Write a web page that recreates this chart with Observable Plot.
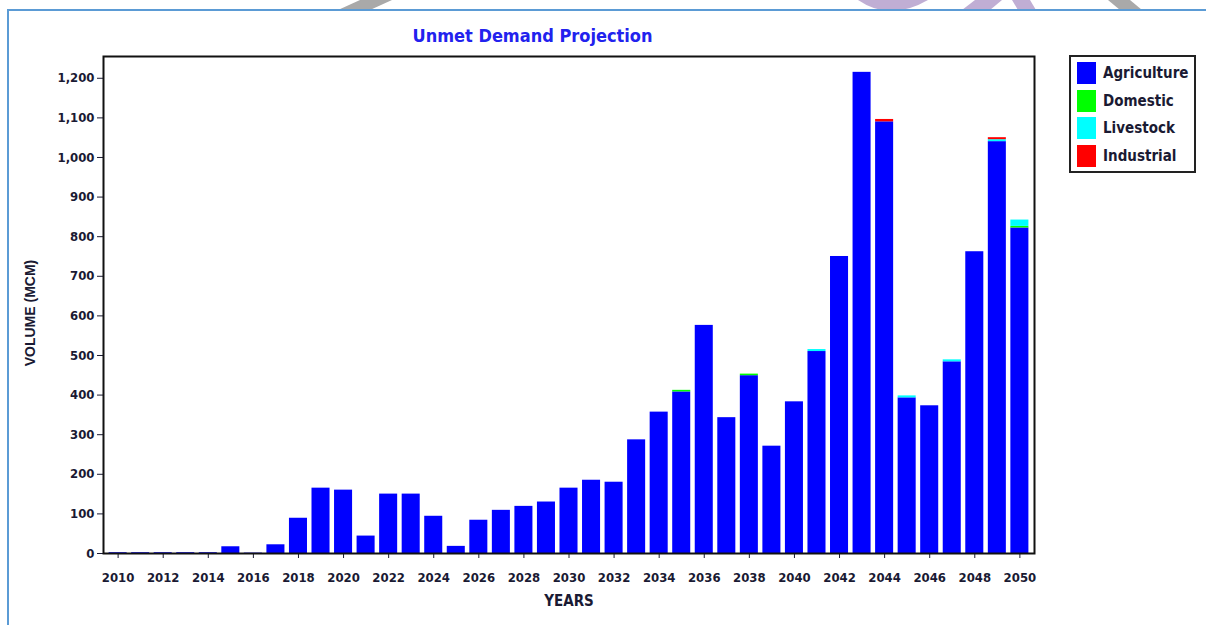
<!DOCTYPE html>
<html>
<head>
<meta charset="utf-8">
<script src="https://cdn.jsdelivr.net/npm/d3@7"></script>
<script src="https://cdn.jsdelivr.net/npm/@observablehq/plot@0.6"></script>
<style>
  html, body { margin: 0; padding: 0; background: #fff; }
  #wrap { position: relative; width: 1206px; height: 625px; overflow: hidden; }
  #deco { position: absolute; left: 0; top: 0; }
  #chart { position: absolute; left: 0; top: 0; }
  #title { position: absolute; left: 0; width: 1065px; top: 25px; text-align: center;
    font-family: "DejaVu Sans Condensed", "DejaVu Sans", sans-serif; font-stretch: condensed; font-weight: bold;
    font-size: 18px; color: #2222ee; }
  #legend { position: absolute; left: 1069px; top: 55px; width: 127px; height: 118px;
    border: 2px solid #222; background: #fff; box-sizing: border-box;
    font-family: "DejaVu Sans Condensed", "DejaVu Sans", sans-serif; font-stretch: condensed; font-weight: bold; font-size: 15px; color: #1a1a33; }
  .row { position: absolute; left: 6px; height: 22px; display: flex; align-items: center; }
  .sw { width: 19px; height: 22px; margin-right: 7px; }
</style>
</head>
<body>
<div id="wrap">
  <svg id="deco" width="1206" height="625">
    <polygon points="338,10 360,0 392,0 370,10" fill="#a9a9a9"/>
    <path d="M858,0 Q890,22 928,0 Z" fill="#c0aed4"/>
    <polygon points="962,10 975,0 1002,0 990,10" fill="#c0aed4"/>
    <polygon points="1012,0 1030,0 1036,10 1018,10" fill="#c0aed4"/>
    <polygon points="1108,0 1130,0 1142,10 1120,10" fill="#a9a9a9"/>
    <line x1="7" y1="10" x2="1206" y2="10" stroke="#5b9bd5" stroke-width="2"/>
    <line x1="8" y1="10" x2="8" y2="625" stroke="#5b9bd5" stroke-width="2"/>
  </svg>
  <div id="chart"></div>
  <div id="title">Unmet Demand Projection</div>
  <div id="legend"></div>
</div>
<script>
const years = [2010,2011,2012,2013,2014,2015,2016,2017,2018,2019,2020,2021,2022,2023,2024,2025,2026,2027,2028,2029,2030,2031,2032,2033,2034,2035,2036,2037,2038,2039,2040,2041,2042,2043,2044,2045,2046,2047,2048,2049,2050];
const agriculture = [2,2,2,2,2,17,1,22,89,165,160,44,150,150,94,18,84,109,119,130,165,185,180,287,357,408,576,343,449,271,383,510,750,1215,1090,393,373,484,762,1040,822];
const domestic    = [0,0,0,0,0,0,0,0,0,0,0,0,0,0,0,0,0,0,0,0,0,0,0,0,0,4,0,0,4,0,0,0,0,0,0,0,0,0,0,0,4];
const livestock   = [0,0,0,0,0,0,0,0,0,0,0,0,0,0,0,0,0,0,0,0,0,0,0,0,0,0,0,0,0,0,0,5,0,0,0,5,0,5,0,5,16];
const industrial  = [0,0,0,0,0,0,0,0,0,0,0,0,0,0,0,0,0,0,0,0,0,0,0,0,0,0,0,0,0,0,0,0,0,0,6,0,0,0,0,5,0];
const seriesNames = ["Agriculture","Domestic","Livestock","Industrial"];
const seriesColors = ["#0000ff","#00ff00","#00ffff","#ff0000"];
const yTicks = [0,100,200,300,400,500,600,700,800,900,1000,1100,1200];
const xTickYears = [2010,2012,2014,2016,2018,2020,2022,2024,2026,2028,2030,2032,2034,2036,2038,2040,2042,2044,2046,2048,2050];

const seriesValues = [agriculture, domestic, livestock, industrial];
const rows = [];
years.forEach((yr, i) => {
  seriesNames.forEach((s, k) => rows.push({year: yr, series: s, value: seriesValues[k][i]}));
});

const font = '"DejaVu Sans Condensed", "DejaVu Sans", sans-serif';
const chart = Plot.plot({
  width: 1206,
  height: 625,
  marginLeft: 103,
  marginRight: 172,
  marginTop: 56,
  marginBottom: 72,
  style: {fontFamily: font, fontWeight: "bold", fontSize: "13px", fontStretch: "condensed", color: "#1a1a33", background: "transparent"},
  x: {type: "band", domain: years, range: [108.6, 1028.4], paddingInner: 0.2, paddingOuter: 0, round: false, label: null},
  y: {domain: [0, 1255], label: null},
  color: {domain: seriesNames, range: seriesColors},
  marks: [
    Plot.barY(rows, Plot.stackY({x: "year", y: "value", fill: "series", order: seriesNames})),
    Plot.axisX({ticks: xTickYears, tickSize: 5, tickPadding: 14, tickFormat: d => String(d), label: null, fontSize: 13}),
    Plot.axisY({ticks: yTicks, tickSize: 6, tickPadding: 3, tickFormat: d3.format(","), label: null, fontSize: 13}),
    Plot.frame({stroke: "#111", strokeWidth: 2}),
    Plot.text(["YEARS"], {frameAnchor: "bottom", dy: 52, fontSize: 15, fontWeight: "bold", fill: "#1a1a33"}),
    Plot.text(["VOLUME (MCM)"], {frameAnchor: "left", textAnchor: "middle", dx: -73, dy: 8, rotate: -90, fontSize: 14, fontWeight: "bold", fill: "#1a1a33", fontFamily: "Liberation Sans, Arial, sans-serif", letterSpacing: "2px"})
  ]
});
document.getElementById("chart").appendChild(chart);

const lg = document.getElementById("legend");
seriesNames.forEach((s, k) => {
  const r = document.createElement("div");
  r.className = "row";
  r.style.top = (5 + k * 27.5) + "px";
  r.innerHTML = `<div class="sw" style="background:${seriesColors[k]}"></div><span>${s}</span>`;
  lg.appendChild(r);
});
</script>
</body>
</html>
